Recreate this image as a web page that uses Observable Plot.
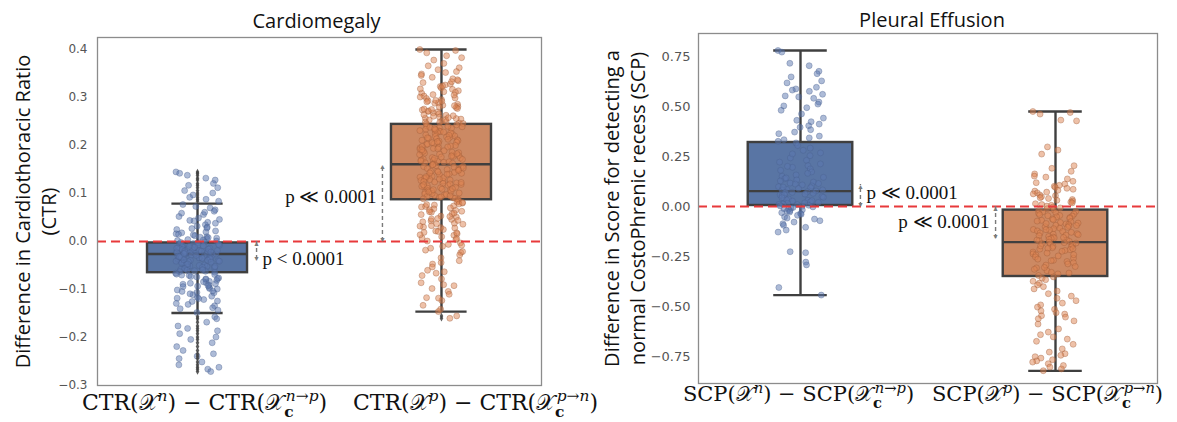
<!DOCTYPE html>
<html><head><meta charset="utf-8">
<script src="https://cdn.jsdelivr.net/npm/d3@7"></script>
<script src="https://cdn.jsdelivr.net/npm/@observablehq/plot@0.6"></script>
<style>
body{margin:0;background:#fff;}
#wrap{position:relative;width:1177px;height:422px;overflow:hidden;}
#wrap > div{position:absolute;top:0;}
#wrap svg{overflow:visible;background:transparent;max-width:none;}
</style></head><body>
<div id="wrap"><div id="left" style="left:0;width:588px"></div><div id="right" style="left:588px;width:589px"></div></div>
<script>
// ---------- shared category info ----------
const groups = [0, 1];
const groupSup = ["n", "p"];
const groupFlip = ["n→p", "p→n"];
const boxFill = ["#5975a4", "#cc8963"];
const dotFill = ["#5b78b0", "#dd8452"];
const dotStroke = ["#4a5f8c", "#9a5a38"];

// ---------- Cardiomegaly (CTR) ----------
const ctrTitle = "Cardiomegaly";
const ctrYLabel = "Difference in Cardiothoracic Ratio\n(CTR)";
const ctrTicks = [-0.3, -0.2, -0.1, 0.0, 0.1, 0.2, 0.3, 0.4];
const ctrQ1 = [-0.065, 0.087];
const ctrMed = [-0.026, 0.161];
const ctrQ3 = [-0.003, 0.244];
const ctrLo = [-0.149, -0.146];
const ctrHi = [0.079, 0.400];
const ctrMean = [-0.040, 0.160];
const ctrTextY = [-0.036, 0.092];
const ctrPText = ["p < 0.0001", "p ≪ 0.0001"];
const ctrN = [0.145,0.142,0.138,0.132,0.128,0.121,0.117,0.112,0.106,0.101,0.097,0.092,0.088,0.084,
0.077,0.073,0.070,0.066,0.063,0.059,0.056,0.052,0.049,0.046,0.043,0.040,0.038,0.035,0.032,0.030,0.027,0.025,0.022,0.020,0.018,0.016,0.014,0.012,0.010,0.009,0.007,0.006,0.004,0.003,0.002,0.001,0.061,0.044,0.028,0.015,0.008,
-0.001,-0.004,-0.005,-0.008,-0.009,-0.012,-0.013,-0.014,-0.017,-0.018,-0.019,-0.021,-0.022,-0.024,-0.025,-0.026,-0.028,-0.029,-0.030,-0.032,-0.033,-0.035,-0.037,-0.038,-0.040,-0.041,-0.043,-0.044,-0.046,-0.049,-0.051,-0.052,-0.055,-0.057,-0.058,-0.061,-0.062,-0.064,
-0.002,-0.006,-0.010,-0.011,-0.015,-0.016,-0.020,-0.023,-0.024,-0.027,-0.027,-0.031,-0.034,-0.036,-0.039,-0.042,-0.045,-0.048,-0.050,-0.053,-0.056,-0.060,-0.063,
-0.003,-0.007,-0.012,-0.017,-0.020,-0.022,-0.026,-0.028,-0.030,-0.033,-0.035,-0.038,-0.041,-0.047,-0.054,-0.059,
-0.009,-0.014,-0.019,-0.023,-0.025,-0.029,-0.032,-0.036,-0.039,-0.043,-0.052,
-0.066,-0.069,-0.071,-0.074,-0.076,-0.079,-0.081,-0.083,-0.086,-0.088,-0.091,-0.093,-0.096,-0.099,-0.101,-0.104,-0.107,-0.111,-0.114,-0.118,-0.121,-0.125,-0.129,-0.134,-0.138,-0.143,-0.148,
-0.068,-0.073,-0.078,-0.084,-0.089,-0.094,-0.098,-0.103,-0.109,-0.116,-0.124,-0.131,-0.140,
-0.070,-0.077,-0.087,-0.092,-0.106,-0.119,
-0.157,-0.161,-0.168,-0.176,-0.181,-0.186,-0.192,-0.199,-0.204,-0.211,-0.219,-0.227,-0.234,-0.239,-0.244,-0.251,-0.257,-0.262,-0.266,-0.271];
const ctrP = [0.400,0.398,0.393,0.387,0.383,0.378,0.371,0.366,0.362,0.358,0.354,0.349,0.346,0.342,0.339,0.335,0.331,0.328,0.326,0.323,0.320,0.317,0.314,0.312,0.309,0.306,0.303,0.301,0.298,0.296,0.293,0.291,0.288,0.286,0.284,0.281,0.279,0.277,0.274,0.272,0.270,0.268,0.266,0.263,0.261,0.259,0.257,0.255,0.253,0.251,0.249,0.247,0.245,
0.352,0.337,0.324,0.311,0.299,0.289,0.280,0.271,0.264,0.256,0.250,0.246,
0.333,0.305,0.292,0.283,0.275,0.262,0.254,0.248,0.318,0.294,0.276,0.258,
0.243,0.241,0.239,0.237,0.236,0.234,0.232,0.230,0.229,0.227,0.225,0.224,0.222,0.220,0.219,0.217,0.215,0.214,0.212,0.210,0.209,0.207,0.205,0.204,0.202,0.200,0.199,0.197,0.195,0.194,0.192,0.190,0.189,0.187,0.185,0.184,0.182,0.180,0.179,0.177,0.175,0.174,0.172,0.170,0.169,0.167,0.165,0.164,0.162,0.161,
0.159,0.157,0.156,0.154,0.152,0.151,0.149,0.147,0.146,0.144,0.142,0.141,0.139,0.137,0.136,0.134,0.132,0.131,0.129,0.127,0.126,0.124,0.122,0.121,0.119,0.117,0.116,0.114,0.112,0.111,0.109,0.107,0.106,0.104,0.102,0.101,0.099,0.097,0.096,0.094,0.092,0.091,0.089,0.088,
0.240,0.233,0.226,0.218,0.211,0.203,0.196,0.188,0.181,0.173,0.166,0.158,0.150,0.143,0.135,0.128,0.120,0.113,0.105,0.098,0.090,
0.238,0.228,0.216,0.206,0.193,0.183,0.171,0.163,0.153,0.145,0.133,0.123,0.110,0.100,0.093,
0.235,0.221,0.208,0.198,0.186,0.176,0.168,0.155,0.140,0.125,0.115,0.103,0.095,
0.231,0.213,0.191,0.178,0.160,0.148,0.130,0.118,0.108,
0.086,0.084,0.082,0.080,0.078,0.076,0.074,0.072,0.070,0.068,0.065,0.063,0.061,0.058,0.056,0.053,0.051,0.048,0.046,0.043,0.041,0.038,0.036,0.033,0.030,0.028,0.025,0.022,0.019,0.016,0.013,0.010,0.007,0.004,0.001,
0.081,0.073,0.066,0.059,0.052,0.044,0.037,0.029,0.021,0.014,0.006,0.077,0.062,0.047,0.032,0.018,
-0.003,-0.006,-0.010,-0.014,-0.018,-0.023,-0.028,-0.034,-0.040,-0.047,-0.053,-0.060,-0.066,-0.071,-0.078,-0.086,-0.092,-0.098,-0.104,-0.110,-0.117,-0.123,-0.133,-0.141,-0.146,-0.008,-0.021,-0.044,-0.063,-0.090,-0.118,
-0.155,-0.160];

// ---------- Pleural Effusion (SCP) ----------
const scpTitle = "Pleural Effusion";
const scpYLabel = "Difference in Score for detecting a\nnormal CostoPhrenic recess (SCP)";
const scpTicks = [-0.75, -0.5, -0.25, 0, 0.25, 0.5, 0.75];
const scpQ1 = [0.005, -0.350];
const scpMed = [0.077, -0.178];
const scpQ3 = [0.320, -0.018];
const scpLo = [-0.443, -0.822];
const scpHi = [0.780, 0.475];
const scpMean = [0.110, -0.160];
const scpTextY = [0.070, -0.075];
const scpPText = ["p ≪ 0.0001", "p ≪ 0.0001"];
const scpN = [0.780,0.772,0.716,0.704,0.676,0.664,0.648,0.628,0.618,0.596,0.588,0.582,0.576,0.561,0.553,0.548,0.541,0.522,0.512,0.503,0.494,0.481,0.463,0.442,0.431,0.424,0.412,0.404,0.396,0.384,0.372,0.364,0.352,0.343,0.334,0.326,
0.318,0.305,0.292,0.281,0.268,0.254,0.243,0.231,0.222,0.213,0.204,0.196,0.188,0.181,0.173,0.166,0.158,0.151,0.146,0.139,0.133,0.128,0.122,0.117,0.112,0.108,0.103,0.099,0.094,0.090,0.086,0.082,0.078,0.074,0.070,0.066,0.062,0.058,0.054,0.050,0.046,0.042,0.038,0.034,0.031,0.027,0.023,0.020,0.016,0.013,0.009,0.006,
0.115,0.097,0.083,0.071,0.059,0.044,0.029,0.018,0.011,0.263,0.201,0.143,
0.003,0.001,-0.002,-0.005,-0.008,-0.011,-0.014,-0.017,-0.021,-0.024,-0.028,-0.031,-0.035,-0.039,-0.044,-0.052,-0.058,-0.063,-0.071,-0.078,-0.086,-0.094,-0.104,-0.118,-0.128,-0.226,-0.231,-0.278,-0.292,-0.405,-0.443];
const scpP = [0.475,0.470,0.462,0.432,0.428,0.298,0.282,0.262,0.204,0.191,0.176,0.163,0.152,0.147,0.138,0.126,0.119,0.112,0.106,0.101,0.096,0.091,0.086,0.081,0.077,0.072,0.068,0.063,0.058,0.054,0.049,0.044,0.040,0.035,0.031,0.027,0.022,0.018,0.014,0.010,0.006,0.002,-0.003,-0.007,-0.011,-0.015,
-0.020,-0.024,-0.027,-0.031,-0.034,-0.038,-0.041,-0.045,-0.048,-0.052,-0.055,-0.059,-0.062,-0.066,-0.069,-0.073,-0.076,-0.080,-0.083,-0.087,-0.090,-0.094,-0.097,-0.101,-0.104,-0.108,-0.111,-0.115,-0.118,-0.122,-0.125,-0.129,-0.132,-0.136,-0.139,-0.143,-0.146,-0.150,-0.153,-0.157,-0.160,-0.164,-0.167,-0.171,-0.174,-0.178,-0.181,-0.185,-0.188,-0.192,-0.195,-0.199,-0.202,-0.206,-0.209,-0.213,-0.216,-0.220,-0.224,-0.228,-0.233,-0.237,-0.242,-0.247,-0.252,-0.258,-0.263,-0.269,-0.275,-0.281,-0.287,-0.293,-0.300,-0.307,-0.314,-0.321,-0.329,-0.337,-0.345,
-0.046,-0.085,-0.116,-0.141,-0.168,-0.183,-0.197,-0.211,-0.241,-0.271,-0.305,-0.333,-0.095,-0.155,
-0.352,-0.358,-0.366,-0.374,-0.383,-0.392,-0.401,-0.412,-0.423,-0.436,-0.448,-0.459,-0.471,-0.483,-0.492,-0.503,-0.514,-0.522,-0.531,-0.538,-0.546,-0.553,-0.561,-0.572,-0.588,-0.612,-0.628,-0.641,-0.652,-0.663,-0.674,-0.689,-0.712,-0.728,-0.736,-0.744,-0.751,-0.758,-0.766,-0.772,-0.778,-0.786,-0.795,-0.803,-0.812,-0.821];

// ---------- drawing ----------
function richLabel(fn, g, fs) {
  const s = +(fs * 0.7).toFixed(1), up = +(fs * 0.42).toFixed(1), dn = +(fs * 0.3).toFixed(1);
  const it = t => t.replace(/([np])/g, '<tspan font-style="italic">$1</tspan>');
  return `${fn}(𝒳<tspan font-size="${s}" dy="${-up}">${it(groupSup[g])}</tspan>` +
    `<tspan dy="${up}">) − ${fn}(𝒳</tspan>` +
    `<tspan font-size="${s}" font-weight="bold" dy="${dn}">c</tspan>` +
    `<tspan font-size="${s}" dx="${-(s * 0.5).toFixed(1)}" dy="${-(dn + up).toFixed(1)}">${it(groupFlip[g])}</tspan>` +
    `<tspan dy="${up}">)</tspan>`;
}

// deterministic strip-plot jitter (integer hash of the point index, no randomness)
function hash01(n) {
  n = Math.imul(n ^ (n >>> 16), 0x45d9f3b);
  n = Math.imul(n ^ (n >>> 16), 0x45d9f3b);
  n = n ^ (n >>> 16);
  return (n >>> 0) / 4294967296;
}

function panel(cfg) {
  const pts = [];
  cfg.values.forEach((arr, g) => arr.forEach((v, k) => pts.push({g, v, k})));
  const boxes = groups.map(g => ({g, q1: cfg.q1[g], med: cfg.med[g], q3: cfg.q3[g], lo: cfg.lo[g], hi: cfg.hi[g]}));
  const fliers = pts.filter(d => d.v > boxes[d.g].hi || d.v < boxes[d.g].lo);
  const ann = groups.map(g => ({g, v: cfg.mean[g], ty: cfg.textY[g], text: cfg.pText[g], side: g === 0 ? 1 : -1}));
  const BW = 0.205, CW = 0.105, J = 0.09;
  const jit = d => d.g + (hash01(d.k * 7 + d.g * 1013 + 17) * 2 - 1) * J;
  const ax = d => d.g + d.side * (BW + cfg.gap);
  const serif = "Liberation Serif, DejaVu Serif, serif";
  const lineCol = "#3f3f3f";
  const svg = Plot.plot({
    width: cfg.width, height: 422,
    marginLeft: cfg.ml, marginRight: cfg.mr, marginTop: cfg.mt, marginBottom: cfg.mb,
    x: {domain: cfg.xDomain},
    y: {domain: cfg.yDomain},
    marks: [
      Plot.rect(boxes, {x1: d => d.g - BW, x2: d => d.g + BW, y1: "q1", y2: "q3", fill: d => boxFill[d.g], stroke: lineCol, strokeWidth: 2.4}),
      Plot.ruleX(boxes, {x: "g", y1: "q3", y2: "hi", stroke: lineCol, strokeWidth: 2.4}),
      Plot.ruleX(boxes, {x: "g", y1: "lo", y2: "q1", stroke: lineCol, strokeWidth: 2.4}),
      Plot.ruleY(boxes, {y: "hi", x1: d => d.g - CW, x2: d => d.g + CW, stroke: lineCol, strokeWidth: 2.4}),
      Plot.ruleY(boxes, {y: "lo", x1: d => d.g - CW, x2: d => d.g + CW, stroke: lineCol, strokeWidth: 2.4}),
      Plot.ruleY(boxes, {y: "med", x1: d => d.g - BW, x2: d => d.g + BW, stroke: lineCol, strokeWidth: 2.4}),
      Plot.dot(pts, {x: jit, y: "v", r: 3, fill: d => dotFill[d.g], fillOpacity: 0.5, stroke: d => dotStroke[d.g], strokeOpacity: 0.45, strokeWidth: 0.8}),
      Plot.dot(fliers, {x: "g", y: "v", symbol: "diamond", r: 1.9, fill: lineCol, fillOpacity: 0.85}),
      Plot.ruleY([0], {stroke: "#e8393b", strokeWidth: 2, strokeDasharray: "9,5"}),
      Plot.ruleX(ann, {x: ax, y1: 0, y2: "v", stroke: "#7a7a7a", strokeWidth: 1.4, strokeDasharray: "4,3"}),
      Plot.text(ann, {x: ax, y: d => Math.max(0, d.v), text: () => "▲", fill: "#7a7a7a", fontSize: 7, dy: 2}),
      Plot.text(ann, {x: ax, y: d => Math.min(0, d.v), text: () => "▼", fill: "#7a7a7a", fontSize: 7, dy: -2}),
      Plot.text(ann.filter(d => d.side > 0), {x: ax, y: "ty", text: "text", textAnchor: "start", dx: 6, fontSize: cfg.pFont, fontFamily: serif, fill: "#111"}),
      Plot.text(ann.filter(d => d.side < 0), {x: ax, y: "ty", text: "text", textAnchor: "end", dx: -6, fontSize: cfg.pFont, fontFamily: serif, fill: "#111"}),
      Plot.frame({stroke: "#8c8c8c", strokeWidth: 1.3}),
      Plot.axisY({ticks: cfg.ticks, tickFormat: d3.format(cfg.fmt), tickSize: 0, tickPadding: cfg.yPad, fontSize: cfg.yFont, fontFamily: "DejaVu Sans", color: "#555", label: null}),
      Plot.axisX({ticks: groups, tickFormat: g => `${cfg.fn} ${g}`, tickSize: 0, tickPadding: cfg.xPad, fontSize: cfg.xFont, fontFamily: "DejaVu Serif", color: "#111", label: null}),
      Plot.text([cfg.title], {frameAnchor: "top", dy: -cfg.titleDy, dx: cfg.titleDx, lineAnchor: "bottom", textAnchor: "middle", fontSize: 20, fontFamily: "Open Sans, sans-serif", fill: "#111"}),
      Plot.text([cfg.ylabel], {frameAnchor: "left", rotate: -90, dx: cfg.ylabDx, textAnchor: "middle", lineAnchor: "middle", lineHeight: 1.33, fontSize: 20, fontFamily: "Open Sans, sans-serif", fill: "#111"})
    ]
  });
  svg.querySelectorAll('[aria-label="x-axis tick label"] text').forEach((t, i) => {
    t.innerHTML = richLabel(cfg.fn, i, cfg.xFont);
    t.setAttribute("dx", cfg.labelShift[i]);
  });
  return svg;
}

document.getElementById("left").append(panel({
  width: 588, ml: 97, mr: 47, mt: 37, mb: 37,
  xDomain: [-0.41, 1.41], yDomain: [-0.3, 0.425],
  values: [ctrN, ctrP], q1: ctrQ1, med: ctrMed, q3: ctrQ3, lo: ctrLo, hi: ctrHi,
  mean: ctrMean, textY: ctrTextY, pText: ctrPText, gap: 0.037,
  ticks: ctrTicks, fmt: ".1f", yFont: 12, yPad: 10, xFont: 22, xPad: 9, pFont: 19, labelShift: [7, 34],
  fn: "CTR", title: ctrTitle, titleDy: 10, titleDx: -3, ylabel: ctrYLabel, ylabDx: -63
}));
document.getElementById("right").append(panel({
  width: 589, ml: 110, mr: 20, mt: 33, mb: 39,
  xDomain: [-0.4, 1.4], yDomain: [-0.885, 0.865],
  values: [scpN, scpP], q1: scpQ1, med: scpMed, q3: scpQ3, lo: scpLo, hi: scpHi,
  mean: scpMean, textY: scpTextY, pText: scpPText, gap: 0.03,
  ticks: scpTicks, fmt: ".2f", yFont: 13, yPad: 8, xFont: 21, xPad: 3, pFont: 19, labelShift: [-2, -8],
  fn: "SCP", title: scpTitle, titleDy: 7, titleDx: 4, ylabel: scpYLabel, ylabDx: -75
}));
</script>
</body></html>
